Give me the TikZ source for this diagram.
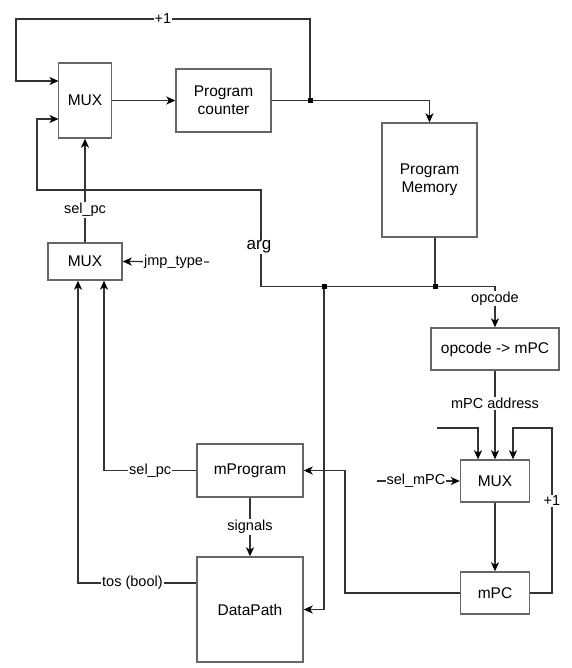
\documentclass[tikz,border=0pt]{standalone}
\usepackage{fontspec}
\setmainfont{Liberation Sans}
\usetikzlibrary{arrows.meta,calc}
\begin{document}
\begin{tikzpicture}[x=1pt,y=-1pt,
  box/.style={draw=black!60,line width=1.4pt,rectangle,inner sep=0pt,align=center,font=\fontsize{15.5}{18}\selectfont},
  conn/.style={draw=black!80,line width=1.3pt},
  arr/.style={conn,-{Stealth[length=9pt,width=8pt,inset=2.5pt,black]}},
  lbl/.style={font=\fontsize{14.5}{17}\selectfont,fill=white,inner sep=1pt},
  junc/.style={rectangle,fill=black,minimum size=5pt,inner sep=0pt}]
\useasboundingbox (0,0) rectangle (571,668);
% nodes
\node[box,minimum width=53pt,minimum height=75pt] (mux1) at (85,100.5) {MUX};
\node[box,minimum width=95pt,minimum height=63pt] (pc) at (223.5,100.5) {Program\\counter};
\node[box,minimum width=95pt,minimum height=114pt] (pm) at (429.5,180) {Program\\Memory};
\node[box,minimum width=74pt,minimum height=37pt] (mux2) at (85,261.5) {MUX};
\node[box,minimum width=128pt,minimum height=42pt] (op) at (495,349) {opcode -> mPC};
\node[box,minimum width=69pt,minimum height=42pt] (mux3) at (495,481) {MUX};
\node[box,minimum width=69pt,minimum height=42pt] (mpc) at (495,593) {mPC};
\node[box,minimum width=106pt,minimum height=53pt] (mprog) at (250,470.5) {mProgram};
\node[box,minimum width=106pt,minimum height=105pt] (dp) at (250,609.5) {DataPath};
% coordinates
\coordinate (j1) at (310,100.5);
\coordinate (tl) at (16,19);
\coordinate (m1a) at (58.5,81);
\coordinate (m1b) at (58.5,119);
\coordinate (jA) at (324,286.5);
\coordinate (jB) at (435,286.5);
\coordinate (c1) at (261,286.5);
\coordinate (c2) at (37,190);
\coordinate (jt) at (209,262);
\coordinate (li) at (437,428);
\coordinate (c3) at (552,428);
\coordinate (sm) at (377,481);
\coordinate (c4) at (345,593);
% connectors
\draw[arr] (mux1) -- (pc);
\draw[arr] (pc.east) -| (pm.north);
\draw[arr] (j1) |- node[lbl,pos=0.75,inner sep=0.5pt]{+1} (tl) |- (m1a);
\draw[arr] (mux2.north) -- node[lbl,pos=0.31]{sel\_pc} (mux1.south);
\draw[arr] (jt) -- node[lbl,pos=0.41]{jmp\_type} (mux2.east);
\draw[conn] (pm.south -| jB) -- (jB);
\draw[conn] (jB) -- (jA);
\draw[arr] (jA) -- (c1) |- (c2) |- (m1b);
\node[fill=white,inner sep=1pt,font=\fontsize{17}{20}\selectfont] (arg) at (259,247) {arg};
\draw[arr] (jA) |- (dp.east);
\draw[arr] (jB) -| node[lbl,pos=0.65]{opcode} (op.north);
\draw[arr] (op.south) -- node[lbl,pos=0.37]{mPC address} (mux3.north);
\draw[arr] (li) -| ([xshift=-17pt]mux3.north);
\draw[arr] (mpc.east) -| node[lbl,pos=0.78]{+1} (c3) -| ([xshift=18pt]mux3.north);
\draw[arr] (sm) -- node[lbl,pos=0.47]{sel\_mPC} (mux3.west);
\draw[arr] (mux3.south) -- (mpc.north);
\draw[arr] (mpc.west) -- (c4) |- (mprog.east);
\draw[arr] (mprog.south) -- node[lbl]{signals} (dp.north);
\draw[arr] (mprog.west) -| node[lbl,pos=0.25]{sel\_pc} ([xshift=19pt]mux2.south);
\draw[arr] (dp.west |- 0,583) -| node[lbl,pos=0.27]{tos (bool)} ([xshift=-7pt]mux2.south);
% junctions
\node[junc] at (j1) {};
\node[junc] at (jA) {};
\node[junc] at (jB) {};
\end{tikzpicture}
\end{document}
